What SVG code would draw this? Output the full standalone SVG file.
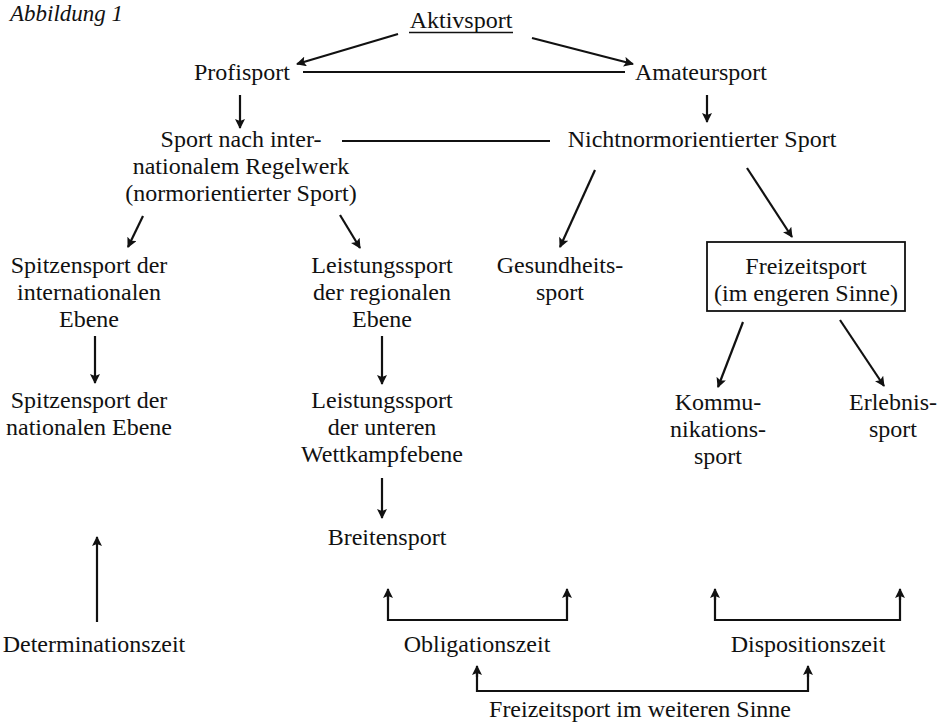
<svg xmlns="http://www.w3.org/2000/svg" width="943" height="725" viewBox="0 0 943 725">
<defs>
<marker id="ah" viewBox="0 0 10 10" refX="9" refY="5" markerWidth="11" markerHeight="10" markerUnits="userSpaceOnUse" orient="auto">
<path d="M0,0 L10,5 L0,10 L2,5 Z" fill="#111"/>
</marker>
<style>
text{font-family:"Liberation Serif","Times New Roman",serif;font-size:24px;fill:#111;text-anchor:middle}
.ti{font-style:italic;text-anchor:start;font-size:23px}
.c{stroke:#111;stroke-width:2.2;fill:none}
.a{marker-end:url(#ah)}
</style>
</defs>
<rect width="943" height="725" fill="#fff"/>
<text class="ti" x="10" y="21">Abbildung 1</text>
<g id="aktivsport"><text x="461" y="28">Aktivsport</text><line x1="409" y1="32.5" x2="513" y2="32.5" stroke="#111" stroke-width="1.5"/></g>
<g id="profisport"><text x="242" y="80">Profisport</text></g>
<g id="amateursport"><text x="701" y="80">Amateursport</text></g>
<g id="normsport"><text x="241" y="147">Sport nach inter-</text><text x="241" y="174">nationalem Regelwerk</text><text x="241" y="201">(normorientierter Sport)</text></g>
<g id="nichtnorm"><text x="702" y="147">Nichtnormorientierter Sport</text></g>
<g id="spitzen-int"><text x="89" y="273">Spitzensport der</text><text x="89" y="300">internationalen</text><text x="89" y="327">Ebene</text></g>
<g id="leistung-reg"><text x="382" y="273">Leistungssport</text><text x="382" y="300">der regionalen</text><text x="382" y="327">Ebene</text></g>
<g id="gesundheit"><text x="560" y="273">Gesundheits-</text><text x="560" y="300">sport</text></g>
<g id="freizeit-eng"><rect x="707" y="242" width="198" height="69" fill="none" stroke="#111" stroke-width="1.8"/><text x="806" y="274">Freizeitsport</text><text x="806" y="301">(im engeren Sinne)</text></g>
<g id="spitzen-nat"><text x="89" y="408">Spitzensport der</text><text x="89" y="435">nationalen Ebene</text></g>
<g id="leistung-unt"><text x="382" y="408">Leistungssport</text><text x="382" y="435">der unteren</text><text x="382" y="462">Wettkampfebene</text></g>
<g id="kommunikation"><text x="718" y="410">Kommu-</text><text x="718" y="437">nikations-</text><text x="718" y="464">sport</text></g>
<g id="erlebnis"><text x="893" y="410">Erlebnis-</text><text x="893" y="437">sport</text></g>
<g id="breitensport"><text x="387" y="545">Breitensport</text></g>
<g id="determination"><text x="94" y="652">Determinationszeit</text></g>
<g id="obligation"><text x="477" y="652">Obligationszeit</text></g>
<g id="disposition"><text x="808" y="652">Dispositionszeit</text></g>
<g id="freizeit-weit"><text x="640" y="717">Freizeitsport im weiteren Sinne</text></g>
<g id="connectors">
<line class="c a" x1="398" y1="34" x2="297" y2="64"/>
<line class="c a" x1="532" y1="38" x2="633" y2="64"/>
<line class="c" x1="303" y1="72" x2="625" y2="72" stroke-width="2.6"/>
<line class="c a" x1="240" y1="95" x2="240" y2="128"/>
<line class="c a" x1="707" y1="95" x2="707" y2="122"/>
<line class="c" x1="342" y1="141" x2="550" y2="141"/>
<line class="c a" x1="143" y1="216" x2="128" y2="247"/>
<line class="c a" x1="340" y1="215" x2="360" y2="248"/>
<line class="c a" x1="595" y1="170" x2="560" y2="247"/>
<line class="c a" x1="747" y1="168" x2="792" y2="237"/>
<line class="c a" x1="95" y1="336" x2="95" y2="383"/>
<line class="c a" x1="382" y1="336" x2="382" y2="384"/>
<line class="c a" x1="382" y1="478" x2="382" y2="518"/>
<line class="c a" x1="743" y1="322" x2="718" y2="387"/>
<line class="c a" x1="840" y1="320" x2="884" y2="386"/>
<line class="c a" x1="97" y1="622" x2="97" y2="537"/>
<path class="c" d="M388,592 V620 H567 V592"/>
<line class="c a" x1="388" y1="600" x2="388" y2="589"/>
<line class="c a" x1="567" y1="600" x2="567" y2="589"/>
<path class="c" d="M715,592 V620 H900 V592"/>
<line class="c a" x1="715" y1="600" x2="715" y2="589"/>
<line class="c a" x1="900" y1="600" x2="900" y2="589"/>
<path class="c" d="M477,669 V691 H808 V669"/>
<line class="c a" x1="477" y1="677" x2="477" y2="666"/>
<line class="c a" x1="808" y1="677" x2="808" y2="666"/>
</g>
</svg>
